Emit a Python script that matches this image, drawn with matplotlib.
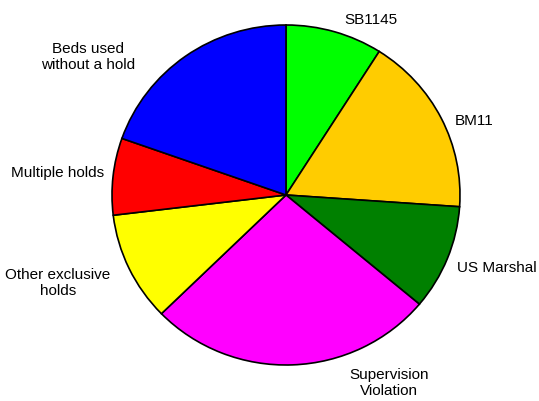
import matplotlib
matplotlib.use("Agg")
import matplotlib.pyplot as plt

labels = ["SB1145", "BM11", "US Marshal", "Supervision\nViolation",
          "Other exclusive\nholds", "Multiple holds", "Beds used\nwithout a hold"]
values = [9.0, 17.1, 10.0, 26.6, 10.4, 7.3, 19.6]
colors = ["#00ff00", "#ffcc00", "#008000", "#ff00ff", "#ffff00", "#ff0000", "#0000ff"]

# label centres in pixels (x from left, y from top)
label_px = [(371, 20), (474, 121), (497, 268), (389, 383),
            (58, 283), (58, 173), (88, 57)]

plt.rcParams['font.family'] = ['Liberation Sans', 'DejaVu Sans']

W, H = 539, 401
cx, cy, rx, ry = 286, 195, 174, 170

fig = plt.figure(figsize=(W / 100, H / 100), dpi=100)
ax = fig.add_axes([0, 0, 1, 1])
wedges, texts = ax.pie(values, labels=labels, colors=colors, startangle=90,
                       counterclock=False,
                       wedgeprops=dict(edgecolor="black", linewidth=1.2),
                       textprops=dict(fontsize=11, ha="center", va="center"))
for t, (px, py) in zip(texts, label_px):
    t.set_position(((px - cx) / rx, (cy - py) / ry))
    t.set_ha("center")
    t.set_va("center")
    t.set_multialignment("center")
    t.set_linespacing(1.15)
ax.set_aspect("auto")
ax.set_xlim(-cx / rx, (W - cx) / rx)
ax.set_ylim(-(H - cy) / ry, cy / ry)
ax.axis("off")
fig.savefig("out.png", dpi=100)
